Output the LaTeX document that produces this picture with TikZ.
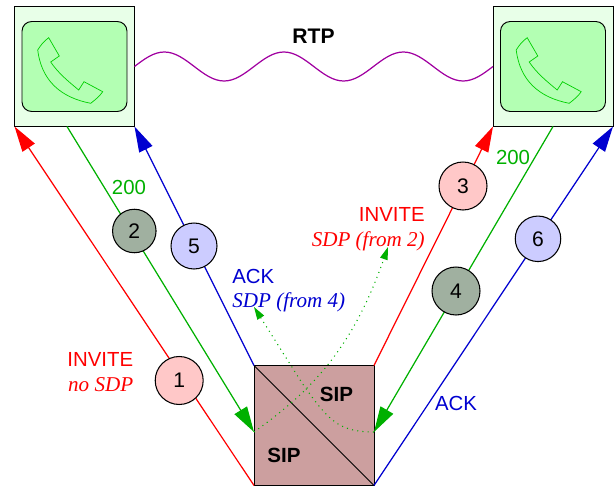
\documentclass[tikz,border=0pt]{standalone}
\usepackage{fontspec}
\setmainfont{Liberation Sans}
\newfontfamily\sdpfont{Liberation Serif}
\usetikzlibrary{arrows.meta}
\definecolor{sigred}{RGB}{255,0,0}
\definecolor{siggreen}{RGB}{0,176,0}
\definecolor{sigblue}{RGB}{0,0,208}
\definecolor{rtppurple}{RGB}{160,0,160}
\definecolor{phonepale}{RGB}{232,255,232}
\definecolor{phonefill}{RGB}{179,255,179}
\definecolor{handgreen}{RGB}{0,208,0}
\definecolor{sipfill}{RGB}{204,159,159}
\definecolor{numpink}{RGB}{255,200,200}
\definecolor{numgrey}{RGB}{160,176,160}
\definecolor{numblue}{RGB}{204,204,255}
\newcommand{\sdptext}[1]{{\sdpfont\itshape\fontsize{12}{14}\selectfont #1}}

\begin{document}
\begin{tikzpicture}[x=0.02cm, y=-0.02cm,
    phonebox/.style={draw, fill=phonepale, line width=0.55pt, minimum size=2.4cm, inner sep=0pt, outer sep=0pt},
    phonepad/.style={draw, fill=phonefill, line width=0.55pt, rounded corners=5.5pt, minimum width=2.1cm, minimum height=1.8cm, inner sep=0pt},
    sipbox/.style={draw, fill=sipfill, line width=0.55pt, minimum size=2.4cm, inner sep=0pt, outer sep=0pt},
    msg/.style={line width=0.7pt, -{Triangle[length=14.5pt, width=8.3pt]}},
    sdpflow/.style={siggreen, line width=0.6pt, dash pattern=on 0.6pt off 2.4pt, -{Triangle[length=7.2pt, width=4.4pt]}},
    num/.style={circle, draw, line width=0.6pt, minimum size=0.96cm, inner sep=0pt, font=\fontsize{12}{14}\selectfont},
    lbl/.style={font=\fontsize{11.6}{14}\selectfont, inner sep=0pt},
    siplbl/.style={font=\fontsize{11.7}{14}\selectfont\bfseries, inner sep=0pt},
    handset/.pic={
        \draw[handgreen, line width=0.4pt] (-25.8,-28.8) -- (-15.2,-10.5) -- (-23.8,-4.5)
            .. controls (-16,7) and (-6,15) .. (4.2,23.5) -- (9.5,15.2) -- (28.2,25.2)
            .. controls (25,30) and (21,33) .. (16.2,36.8)
            .. controls (-14,31) and (-33,14) .. (-36.8,-16.5)
            .. controls (-34,-21) and (-31,-25) .. cycle;
    }]

    \useasboundingbox (0,0) rectangle (616,490);

    \foreach \name/\xpos in {phoneL/74.5, phoneR/553} {
        \node[phonebox] (\name) at (\xpos,66.5) {};
        \node[phonepad] (\name pad) at (\xpos,66.5) {};
        \pic at (\xpos,66.5) {handset};
    }
    \node[sipbox] (sip) at (314,425.5) {};
    \draw[line width=0.6pt] (sip.north west) -- (sip.south east);
    \node[siplbl] (sipa) at (336.5,394.5) {SIP};
    \node[siplbl] (sipb) at (284,455) {SIP};

    \coordinate (sipL) at (254,432);
    \coordinate (sipR) at (374,432);
    \coordinate (ringL) at (67,126.5);
    \coordinate (ringR) at (553,126.5);
    \coordinate (tipack) at (254,307);
    \coordinate (tipinv) at (388,247);

    % rtp stream
    \draw[rtppurple, line width=0.7pt] (phoneL.east)
        sin ++(29.875,-14.5) cos ++(29.875,14.5) sin ++(29.875,14.5) cos ++(29.875,-14.5)
        sin ++(29.875,-14.5) cos ++(29.875,14.5) sin ++(29.875,14.5) cos ++(29.875,-14.5)
        sin ++(29.875,-14.5) cos ++(29.875,14.5) sin ++(29.875,14.5) cos (phoneR.west);
    \node[lbl, font=\fontsize{12}{14}\selectfont\bfseries] (rtp) at (313.5,36) {RTP};

    % signalling
    \draw[msg, sigred] (sip.south west) -- (phoneL.south west);
    \draw[msg, siggreen] (ringL) -- (sipL);
    \draw[msg, sigblue] (sip.north west) -- (phoneL.south east);
    \draw[msg, sigred] (sip.north east) -- (phoneR.south west);
    \draw[msg, siggreen] (ringR) -- (sipR);
    \draw[msg, sigblue] (sip.south east) -- (phoneR.south east);

    % sdp paths
    \draw[sdpflow] (sipL) .. controls (310,392) and (352,350) .. (tipinv);
    \draw[sdpflow] (sipR) .. controls (338,432) and (328,420) .. (302,383) -- (tipack);

    \node[num, fill=numpink] (num1) at (179.2,380.5) {1};
    \node[num, fill=numgrey, minimum size=0.87cm] (num2) at (134.3,231) {2};
    \node[num, fill=numpink] (num3) at (463,186) {3};
    \node[num, fill=numgrey] (num4) at (456,291) {4};
    \node[num, fill=numblue, minimum size=0.92cm] (num5) at (194,246) {5};
    \node[num, fill=numblue, minimum size=0.91cm] (num6) at (538,238.8) {6};

    \node[lbl, text=sigred, align=right, anchor=east] (invL) at (133.5,372) {INVITE\\\sdptext{no SDP}};
    \node[lbl, text=sigred, align=right, anchor=east] (invR) at (425,229) {INVITE\\\sdptext{SDP (from 2)}};
    \node[lbl, text=sigblue, align=left, anchor=west] (ackL) at (232,290.5) {ACK\\\sdptext{SDP (from 4)}};
    \node[lbl, text=sigblue] (ackR) at (456,403) {ACK};
    \node[lbl, text=siggreen] (okL) at (129,187) {200};
    \node[lbl, text=siggreen] (okR) at (513,157) {200};
\end{tikzpicture}
\end{document}
